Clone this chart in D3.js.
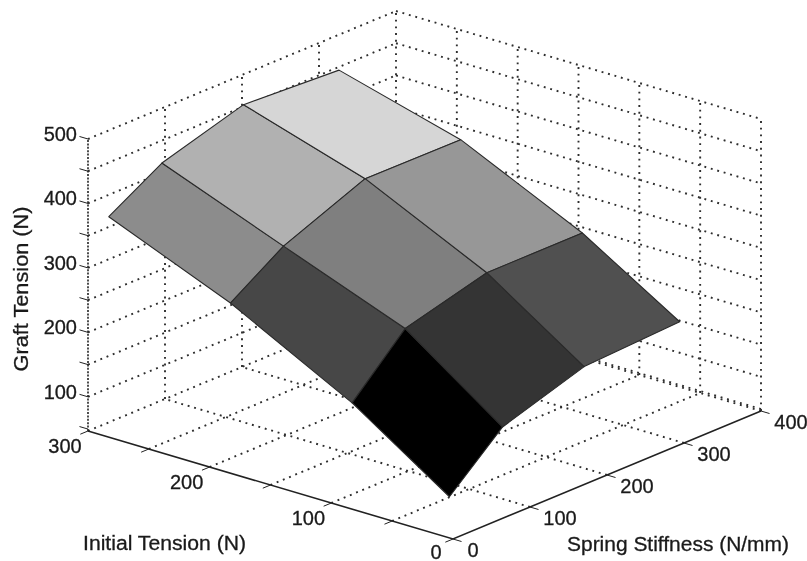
<!DOCTYPE html>
<html><head><meta charset="utf-8">
<script src="https://cdnjs.cloudflare.com/ajax/libs/d3/7.8.5/d3.min.js"></script>
<style>
html,body{margin:0;padding:0;background:#fff}
svg{display:block;filter:blur(0.5px)}
text{font-family:"Liberation Sans",Arial,sans-serif;fill:#1a1a1a;stroke:#1a1a1a;stroke-width:0.3px}
</style></head><body><svg id="c" width="807" height="561"></svg>
<script>
// Data
const initialValues = [300, 200, 100, 20];
const springValues = [27, 96, 202, 326];
const tensionRow300 = [366, 415, 453, 445];
const tensionRow200 = [288, 342, 394, 393];
const tensionRow100 = [189, 270, 304, 304];
const tensionRow20 = [88, 162, 203, 211];
const tensionGrid = [tensionRow300, tensionRow200, tensionRow100, tensionRow20];

const initialTicks = [0, 50, 100, 150, 200, 250, 300];
const initialLabels = [0, 100, 200, 300];
const springTicks = [0, 100, 200, 300, 400];
const springLabels = [0, 100, 200, 300, 400];
const tensionTicks = [50, 100, 150, 200, 250, 300, 350, 400, 450, 500];
const tensionLabels = [100, 200, 300, 400, 500];
const zFloor = 47, zTop = 500, iMax = 300, sMax = 400;

// Oblique projection built from linear scales
const ix = d3.scaleLinear().domain([0, iMax]).range([0, -365]);
const iy = d3.scaleLinear().domain([0, iMax]).range([0, -108]);
const sx = d3.scaleLinear().domain([0, sMax]).range([0, 308]);
const sy = d3.scaleLinear().domain([0, sMax]).range([0, -128]);
const zy = d3.scaleLinear().domain([zFloor, zTop]).range([0, -292]);
const origin = [453, 539];
const P = (i, s, z) => [origin[0] + ix(i) + sx(s), origin[1] + iy(i) + sy(s) + zy(z)];

const allZ = tensionGrid.flat();
const gray = d3.scaleLinear().domain(d3.extent(allZ)).range([0, 255]);

const svg = d3.select("#c");
const line = d3.line();
const gridG = svg.append("g").attr("fill", "none").attr("stroke", "#2e2e2e")
  .attr("stroke-width", 1.9).attr("stroke-dasharray", "1.9 4.8");
const seg = (a, b) => gridG.append("path").attr("d", line([a, b]));

// floor grid
initialTicks.forEach(i => { if (i > 0) seg(P(i, 0, zFloor), P(i, sMax, zFloor)); });
springTicks.forEach(s => { if (s > 0) seg(P(0, s, zFloor), P(iMax, s, zFloor)); });
// second pass along the dark back-right floor edge
seg(P(0, sMax, zFloor + 3), P(iMax, sMax, zFloor + 3));
// walls
tensionTicks.filter(z => z >= 100).forEach(z => {
  seg(P(iMax, 0, z), P(iMax, sMax, z));
  seg(P(iMax, sMax, z), P(0, sMax, z));
});
springTicks.forEach(s => { if (s > 0) seg(P(iMax, s, zFloor), P(iMax, s, zTop)); });
initialTicks.forEach(i => { if (i < iMax) seg(P(i, sMax, zFloor), P(i, sMax, zTop)); });

// surface
const cells = [];
for (let r = 0; r < initialValues.length - 1; r++)
  for (let c = 0; c < springValues.length - 1; c++) cells.push({r, c});
svg.append("g").selectAll("path").data(cells).join("path")
  .attr("d", ({r, c}) => line([
    P(initialValues[r], springValues[c], tensionGrid[r][c]),
    P(initialValues[r], springValues[c + 1], tensionGrid[r][c + 1]),
    P(initialValues[r + 1], springValues[c + 1], tensionGrid[r + 1][c + 1]),
    P(initialValues[r + 1], springValues[c], tensionGrid[r + 1][c])
  ]) + "Z")
  .attr("fill", ({r, c}) => { const g = Math.round(gray(tensionGrid[r + 1][c])); return d3.rgb(g, g, g); })
  .attr("stroke", "#2a2a2a").attr("stroke-width", 1.1).attr("stroke-linejoin", "round");

// axes
const axG = svg.append("g").attr("fill", "none").attr("stroke", "#222").attr("stroke-width", 1.6);
axG.append("path").attr("d", line([P(iMax, 0, zFloor), P(0, 0, zFloor), P(0, sMax, zFloor)]));
axG.append("path").attr("d", line([P(iMax, 0, zFloor), P(iMax, 0, zTop)]))
  .attr("stroke-dasharray", "2 1.4");
initialTicks.forEach(i => axG.append("path").attr("d", line([P(i, 0, zFloor), P(i, -10, zFloor)])).attr("stroke-width", 1));
springTicks.forEach(s => axG.append("path").attr("d", line([P(0, s, zFloor), P(-7, s, zFloor)])).attr("stroke-width", 1));
tensionTicks.forEach(z => axG.append("path").attr("d", line([P(iMax, 0, z), P(iMax + 7, 0, z)])).attr("stroke-width", 1));

// labels
const label = (x, y, t, anchor = "middle", fs = 20) => svg.append("text")
  .attr("x", x).attr("y", y).attr("text-anchor", anchor).attr("dominant-baseline", "central")
  .attr("font-size", fs).text(t);
tensionLabels.forEach(z => { const p = P(iMax, 0, z); label(p[0] - 11, p[1] - 5, z, "end"); });
initialLabels.forEach(i => { const p = P(i, 0, zFloor); label(p[0] + (i === 0 ? -17 : -23), p[1] + (i === 0 ? 12.5 : 14.5), i); });
springLabels.forEach(s => { const p = P(0, s, zFloor); label(p[0] + (s === 0 ? 20 : 30), p[1] + 11, s); });
label(164.5, 543, "Initial Tension (N)").attr("textLength", 163).attr("lengthAdjust", "spacingAndGlyphs");
label(678, 544, "Spring Stiffness (N/mm)").attr("textLength", 222).attr("lengthAdjust", "spacingAndGlyphs");
label(0, 0, "Graft Tension (N)").attr("transform", "translate(21,289) rotate(-90)")
  .attr("textLength", 165).attr("lengthAdjust", "spacingAndGlyphs");
</script></body></html>
